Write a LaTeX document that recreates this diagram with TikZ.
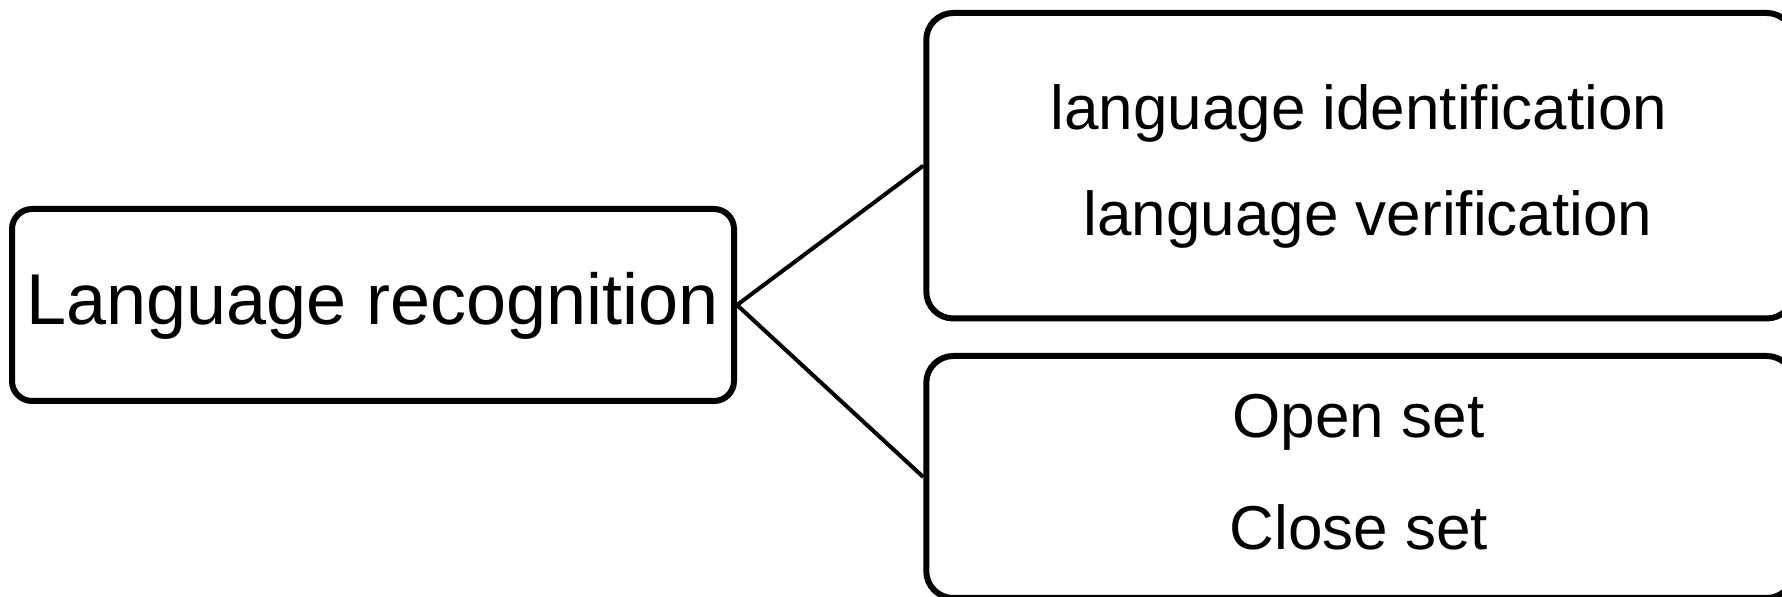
\documentclass[tikz,border=0pt]{standalone}
\usepackage{fontspec}
\setmainfont{Liberation Sans}
\begin{document}
\begin{tikzpicture}[x=0.5pt,y=-0.5pt,
	box/.style={draw,line width=3pt,inner sep=0pt},
	bigtext/.style={inner sep=0pt,font=\fontsize{36}{43}\selectfont},
	smalltext/.style={inner sep=0pt,font=\fontsize{31}{37}\selectfont}]
\clip (0,0) rectangle (1782,597);
\node[box,rounded corners=10pt,minimum width=361pt,minimum height=96pt] (rec) at (373,305) {};
\node[box,rounded corners=13.5pt,minimum width=433.75pt,minimum height=152.75pt] (task) at (1360,165.75) {};
\node[box,rounded corners=13.5pt,minimum width=433.75pt,minimum height=121pt] (set) at (1360,477) {};
\draw[line width=2pt] (task.west) -- (rec.east) -- (set.west);
\node[bigtext] (lang) at (372.5,306) {Language recognition};
\node[smalltext] (ident) at (1359,113) {language identification};
\node[smalltext] (verif) at (1368,219) {language verification};
\node[smalltext] (open) at (1358.5,422) {Open set};
\node[smalltext] (close) at (1359,527) {Close set};
\end{tikzpicture}
\end{document}
